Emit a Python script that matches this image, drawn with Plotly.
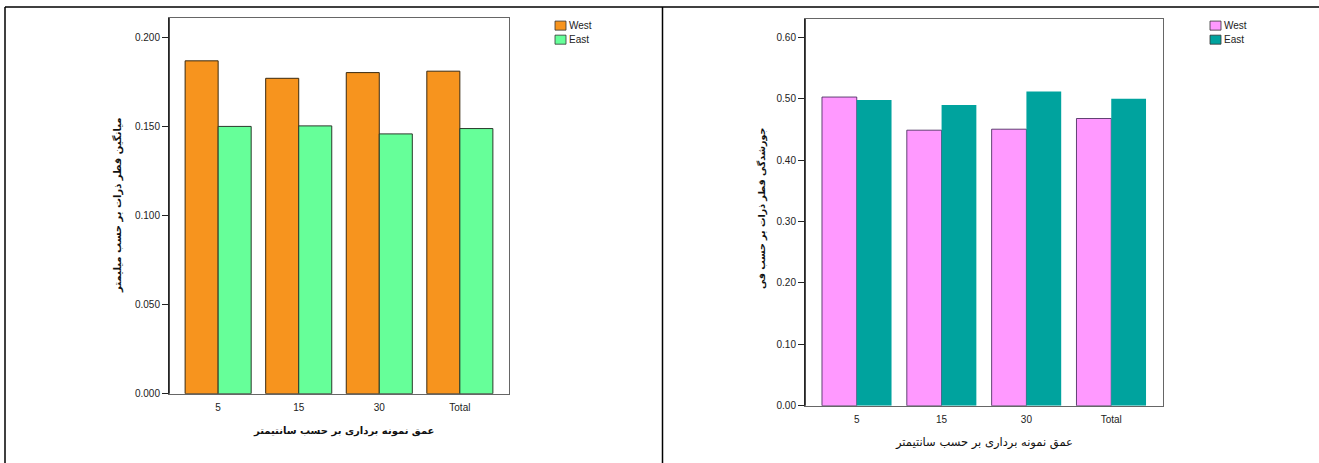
import plotly.graph_objects as go

categories = ["5", "15", "30", "Total"]
west_mean = [0.1868, 0.1770, 0.1802, 0.1810]
east_mean = [0.1500, 0.1503, 0.1458, 0.1488]
west_sort = [0.503, 0.449, 0.4506, 0.468]
east_sort = [0.498, 0.490, 0.512, 0.500]
left_ticks = [0.0, 0.05, 0.10, 0.15, 0.20]
left_ticklabels = ["0.000", "0.050", "0.100", "0.150", "0.200"]
right_ticks = [0.0, 0.1, 0.2, 0.3, 0.4, 0.5, 0.6]
right_ticklabels = ["0.00", "0.10", "0.20", "0.30", "0.40", "0.50", "0.60"]
series_names = ["West", "East"]
left_colors = ["#F7941E", "#66FF99"]
right_colors = ["#FF99FF", "#00A39E"]

W, H = 1319, 470
REF_H = 463
FONT = "Liberation Sans, Arial, DejaVu Sans, sans-serif"
AR_FONT = "DejaVu Sans, Noto Sans, sans-serif"

def px(x):
    return x / W

def py(y):
    return 1 - y / REF_H

fig = go.Figure()
fig.add_trace(go.Bar(x=categories, y=west_mean, name=series_names[0], xaxis="x", yaxis="y",
                     marker=dict(color=left_colors[0], line=dict(color="#3a2a10", width=1))))
fig.add_trace(go.Bar(x=categories, y=east_mean, name=series_names[1], xaxis="x", yaxis="y",
                     marker=dict(color=left_colors[1], line=dict(color="#2a3a2a", width=1))))
fig.add_trace(go.Bar(x=categories, y=west_sort, name=series_names[0], xaxis="x2", yaxis="y2",
                     marker=dict(color=right_colors[0], line=dict(color="#3a2050", width=0.8))))
fig.add_trace(go.Bar(x=categories, y=east_sort, name=series_names[1], xaxis="x2", yaxis="y2",
                     marker=dict(color=right_colors[1], line=dict(color=right_colors[1], width=0))))

axis_common = dict(showgrid=False, zeroline=False, ticks="outside",
                   tickfont=dict(family=FONT, size=10, color="#222"),
                   mirror=True, showline=True, linecolor="#666", linewidth=1)

fig.update_layout(
    width=W, height=H,
    margin=dict(l=0, r=0, t=0, b=0),
    paper_bgcolor="white", plot_bgcolor="white",
    barmode="group", bargap=0.18, bargroupgap=0,
    showlegend=False,
    xaxis=dict(domain=[px(169), px(509)], range=[-0.61, 3.61], anchor="y",
               ticklen=0, ticklabelstandoff=4, **axis_common),
    yaxis=dict(domain=[py(392), py(18)], range=[0, 0.2108], anchor="x",
               tickvals=left_ticks, ticktext=left_ticklabels, tickcolor="#222", ticklen=6,
               **axis_common),
    xaxis2=dict(domain=[px(805), px(1163)], range=[-0.61, 3.61], anchor="y2",
                ticklen=0, ticklabelstandoff=4, **axis_common),
    yaxis2=dict(domain=[py(404), py(19)], range=[0, 0.630], anchor="x2",
                tickvals=right_ticks, ticktext=right_ticklabels, tickcolor="#222", ticklen=6,
                **axis_common),
)

# darker left axis lines
fig.add_shape(type="line", xref="paper", yref="paper", x0=px(169), x1=px(169), y0=py(392), y1=py(18),
              line=dict(color="#111", width=1.5))
fig.add_shape(type="line", xref="paper", yref="paper", x0=px(805), x1=px(805), y0=py(404), y1=py(19),
              line=dict(color="#111", width=1.5))

# table borders
for (x0, y0, x1, y1) in [(5, 7, 1319, 7), (5, 7, 5, 470), (662.5, 7, 662.5, 470)]:
    fig.add_shape(type="line", xref="paper", yref="paper", x0=px(x0), x1=px(x1), y0=py(y0), y1=py(y1),
                  line=dict(color="black", width=1.5))

# compact legends
def add_legend(x_sw, names, colors):
    for i, (nm, col) in enumerate(zip(names, colors)):
        top = 21 + i * 14
        fig.add_shape(type="rect", xref="paper", yref="paper",
                      x0=px(x_sw), x1=px(x_sw + 11), y0=py(top + 9), y1=py(top),
                      fillcolor=col, line=dict(color="#333", width=0.8))
        fig.add_annotation(text=nm, xref="paper", yref="paper", x=px(x_sw + 11.5), y=py(top + 4.5),
                           xanchor="left", yanchor="middle", showarrow=False,
                           font=dict(family=FONT, size=10, color="#222"))

add_legend(555, series_names, left_colors)
add_legend(1210, series_names, right_colors)

# axis titles
fig.add_annotation(text="<b>عمق نمونه برداری بر حسب سانتیمتر</b>", xref="paper", yref="paper",
                   x=px(343), y=py(429), xanchor="center", yanchor="middle", showarrow=False,
                   font=dict(family=AR_FONT, size=10, color="#111"))
fig.add_annotation(text="<b>میانگین قطر ذرات بر حسب میلیمتر</b>", xref="paper", yref="paper",
                   x=px(118), y=py(205), xanchor="center", yanchor="middle", showarrow=False, textangle=-90,
                   font=dict(family=AR_FONT, size=10, color="#111"))
fig.add_annotation(text="عمق نمونه برداری بر حسب سانتیمتر", xref="paper", yref="paper",
                   x=px(984), y=py(441), xanchor="center", yanchor="middle", showarrow=False,
                   font=dict(family=AR_FONT, size=11.5, color="#111"))
fig.add_annotation(text="<b>جورشدگی قطر ذرات بر حسب فی</b>", xref="paper", yref="paper",
                   x=px(762), y=py(208), xanchor="center", yanchor="middle", showarrow=False, textangle=-90,
                   font=dict(family=AR_FONT, size=9.5, color="#111"))

fig.write_html("out.html", config={"displayModeBar": False},
               post_script="document.body.style.margin='0';document.body.style.overflow='hidden';")
